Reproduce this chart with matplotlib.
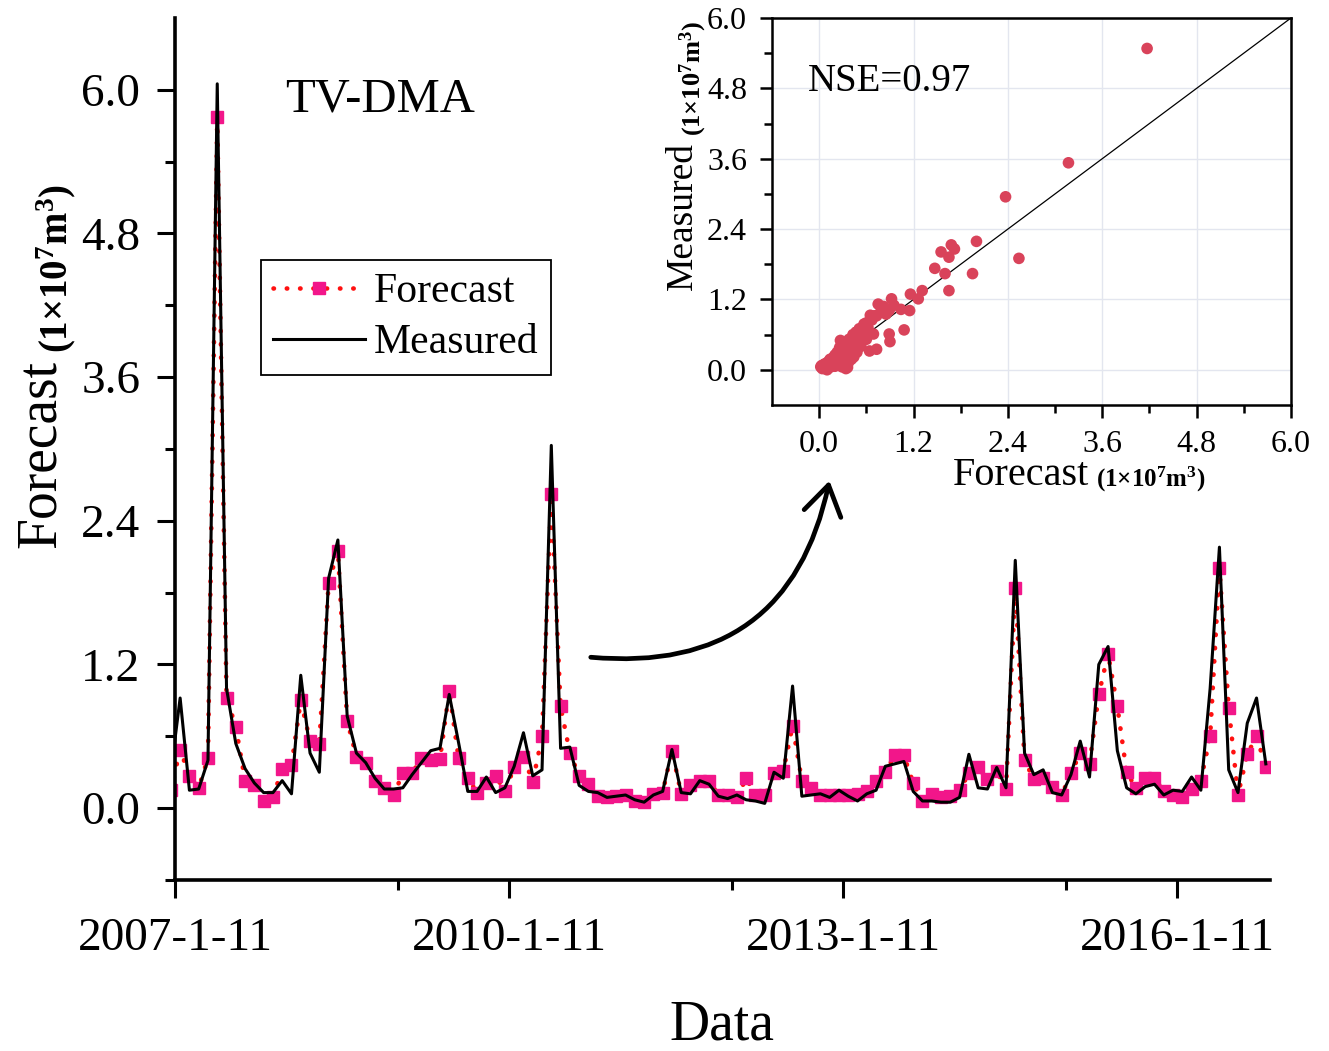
import numpy as np
import matplotlib
matplotlib.use('Agg')
import matplotlib.pyplot as plt
from matplotlib.ticker import FixedLocator
from matplotlib.patches import FancyArrowPatch

plt.rcParams.update({
    'font.family': 'serif',
    'font.serif': ['Liberation Serif', 'DejaVu Serif'],
    'mathtext.fontset': 'custom',
    'mathtext.rm': 'Liberation Serif',
    'mathtext.it': 'Liberation Serif:italic',
    'mathtext.bf': 'Liberation Serif:bold',
    'axes.unicode_minus': False,
})

# monthly series, first month sits just left of the axis
month = np.arange(-1, 118)
measured = [
    0.30, 0.92, 0.15, 0.16, 0.40, 6.05, 1.00, 0.54, 0.33, 0.21,
    0.13, 0.13, 0.23, 0.12, 1.11, 0.46, 0.30, 1.92, 2.24, 0.77,
    0.46, 0.38, 0.25, 0.16, 0.16, 0.17, 0.28, 0.38, 0.48, 0.50,
    0.95, 0.55, 0.14, 0.14, 0.26, 0.13, 0.17, 0.35, 0.63, 0.27,
    0.32, 3.03, 0.50, 0.51, 0.19, 0.14, 0.13, 0.09, 0.10, 0.11,
    0.07, 0.05, 0.11, 0.14, 0.49, 0.13, 0.12, 0.23, 0.20, 0.10,
    0.08, 0.11, 0.07, 0.06, 0.04, 0.30, 0.25, 1.02, 0.10, 0.11,
    0.12, 0.09, 0.15, 0.10, 0.06, 0.12, 0.15, 0.35, 0.37, 0.39,
    0.14, 0.06, 0.06, 0.05, 0.05, 0.09, 0.45, 0.17, 0.16, 0.34,
    0.17, 2.07, 0.46, 0.28, 0.32, 0.13, 0.11, 0.28, 0.56, 0.26,
    1.20, 1.35, 0.48, 0.17, 0.12, 0.18, 0.20, 0.11, 0.15, 0.14,
    0.26, 0.15, 1.00, 2.18, 0.32, 0.13, 0.71, 0.92, 0.37,
]
forecast = [
    0.15, 0.49, 0.27, 0.17, 0.42, 5.77, 0.92, 0.68, 0.23, 0.19,
    0.06, 0.09, 0.33, 0.36, 0.90, 0.56, 0.54, 1.88, 2.15, 0.73,
    0.43, 0.38, 0.23, 0.17, 0.11, 0.29, 0.29, 0.42, 0.40, 0.41,
    0.98, 0.42, 0.25, 0.13, 0.21, 0.27, 0.14, 0.34, 0.43, 0.22,
    0.60, 2.62, 0.85, 0.46, 0.27, 0.20, 0.10, 0.09, 0.10, 0.11,
    0.06, 0.05, 0.12, 0.13, 0.48, 0.12, 0.19, 0.23, 0.23, 0.11,
    0.11, 0.09, 0.25, 0.11, 0.11, 0.29, 0.31, 0.69, 0.23, 0.17,
    0.11, 0.11, 0.11, 0.11, 0.12, 0.14, 0.23, 0.30, 0.44, 0.44,
    0.21, 0.06, 0.12, 0.09, 0.10, 0.15, 0.29, 0.34, 0.24, 0.31,
    0.16, 1.84, 0.40, 0.24, 0.25, 0.18, 0.11, 0.29, 0.46, 0.37,
    0.95, 1.29, 0.85, 0.30, 0.17, 0.25, 0.25, 0.14, 0.11, 0.09,
    0.16, 0.23, 0.60, 2.01, 0.84, 0.11, 0.45, 0.60, 0.34,
]
date_ticks = [0, 36, 72, 108]
date_labels = ['2007-1-11', '2010-1-11', '2013-1-11', '2016-1-11']

# validation scatter (forecast, measured)
val_forecast = [
    4.17, 3.17, 2.37, 2.54, 2.00, 1.68, 1.72, 1.55, 1.65, 1.47,
    1.60, 1.95, 1.65, 1.31, 1.16, 1.26, 1.15, 1.08, 1.04, 0.92,
    0.95, 0.89, 0.85, 0.82, 0.80, 0.78, 0.75, 0.73, 0.70, 0.67,
    0.65, 0.62, 0.60, 0.89, 0.90, 0.73, 0.64, 0.69, 0.60, 0.57,
    0.56, 0.55, 0.53, 0.52, 0.51, 0.50, 0.48, 0.47, 0.46, 0.45,
    0.44, 0.43, 0.42, 0.41, 0.40, 0.38, 0.38, 0.37, 0.36, 0.36,
    0.35, 0.34, 0.33, 0.32, 0.32, 0.30, 0.30, 0.29, 0.28, 0.27,
    0.27, 0.26, 0.25, 0.24, 0.23, 0.22, 0.22, 0.20, 0.20, 0.19,
    0.18, 0.18, 0.17, 0.16, 0.15, 0.14, 0.13, 0.12, 0.12, 0.10,
    0.10, 0.09, 0.08, 0.07, 0.06, 0.05, 0.04, 0.03, 0.02, 0.47,
]
val_measured = [
    5.48, 3.53, 2.95, 1.90, 2.19, 2.13, 2.06, 2.01, 1.92, 1.73,
    1.64, 1.64, 1.35, 1.35, 1.29, 1.21, 1.01, 0.68, 1.03, 1.21,
    1.10, 1.01, 0.95, 1.08, 1.04, 0.98, 1.12, 0.92, 0.92, 0.85,
    0.93, 0.72, 0.80, 0.61, 0.48, 0.35, 0.32, 0.61, 0.52, 0.78,
    0.67, 0.62, 0.40, 0.55, 0.70, 0.45, 0.30, 0.64, 0.50, 0.35,
    0.22, 0.60, 0.42, 0.18, 0.28, 0.52, 0.35, 0.12, 0.45, 0.04,
    0.25, 0.02, 0.32, 0.15, 0.13, 0.40, 0.22, 0.05, 0.28, 0.12,
    0.50, 0.38, 0.20, 0.08, 0.30, 0.15, 0.26, 0.25, 0.06, 0.22,
    0.20, 0.10, 0.14, 0.12, 0.05, 0.18, 0.16, 0.08, 0.10, 0.12,
    0.00, 0.06, 0.04, 0.10, 0.03, 0.08, 0.02, 0.07, 0.05, 0.64,
]
nse = 0.97
val_ticks = [0.0, 1.2, 2.4, 3.6, 4.8, 6.0]
units = r'$\mathbf{(1{\times}10^{7}m^{3})}$'

pink = '#f2168a'
dot_red = '#ff1010'

fig = plt.figure(figsize=(13.29, 10.51), dpi=100)

# ---- main time series ----
ax = fig.add_axes([0.1317, 0.1627, 0.8239, 0.8202])
x = month + 0.55
ax.plot(x, forecast, color=dot_red, lw=3.3, ls=(0, (0.1, 2.8)),
        dash_capstyle='round', marker='s', ms=9, mfc=pink, mec=pink,
        label='Forecast', zorder=2)
ax.plot(x, measured, color='black', lw=2.2, label='Measured', zorder=3)

ax.set_xlim(0, 118)
ax.set_ylim(-0.6, 6.6)
ax.xaxis.set_major_locator(FixedLocator(date_ticks))
ax.xaxis.set_minor_locator(FixedLocator([24, 60, 96]))
ax.set_xticklabels(date_labels)
ax.yaxis.set_major_locator(FixedLocator([0.0, 1.2, 2.4, 3.6, 4.8, 6.0]))
ax.yaxis.set_minor_locator(FixedLocator([-0.6, 0.6, 1.8, 3.0, 4.2, 5.4]))
ax.yaxis.set_major_formatter(plt.FormatStrFormatter('%.1f'))
for side in ('top', 'right'):
    ax.spines[side].set_visible(False)
for side in ('left', 'bottom'):
    ax.spines[side].set_linewidth(2.6)
ax.tick_params(which='major', direction='out', length=13, width=2.2,
               labelsize=34, pad=12)
ax.tick_params(which='minor', direction='out', length=7, width=2.2)
ax.tick_params(axis='x', which='major', pad=14)

leg = ax.legend(loc='upper left', bbox_to_anchor=(0.0785, 0.719),
                borderaxespad=0, fontsize=30, handlelength=2.2,
                handletextpad=0.2, labelspacing=0.3, borderpad=0.3,
                fancybox=False, framealpha=1, edgecolor='black')
leg.get_frame().set_linewidth(1.3)

fig.text(285 / 1329, 1 - 112 / 1051, 'TV-DMA', fontsize=35)
fig.text(722 / 1329, 1 - 1040 / 1051, 'Data', fontsize=40,
         ha='center', va='baseline')

ylab = fig.text(55 / 1329, 1 - 548 / 1051, 'Forecast', fontsize=40,
                rotation=90, rotation_mode='anchor', ha='left',
                va='baseline')
fig.canvas.draw()
ax.annotate(units, xy=(1, 1), xycoords=ylab, xytext=(0, 5),
            textcoords='offset points', fontsize=28, rotation=90,
            rotation_mode='anchor', ha='left', va='baseline',
            annotation_clip=False)

# curved pointer towards the inset
arrow = FancyArrowPatch((588 / 1329, 1 - 657 / 1051),
                        (830 / 1329, 1 - 478 / 1051),
                        transform=fig.transFigure,
                        connectionstyle='arc3,rad=0.45',
                        arrowstyle='->,head_length=0.7,head_width=0.45',
                        mutation_scale=30, lw=3.4, color='black')
fig.patches.append(arrow)

# ---- inset: forecast vs measured ----
ins = fig.add_axes([0.5809, 0.6147, 0.3905, 0.3682])
ins.grid(True, color='#e3e6ef', lw=1.0, zorder=0)
ins.plot([0, 6], [0, 6], color='black', lw=0.9, zorder=2)
ins.scatter(val_forecast, val_measured, s=70, color='#d9435a',
            edgecolor='none', zorder=3)
ins.set_xlim(-0.6, 6.0)
ins.set_ylim(-0.6, 6.0)
ins.xaxis.set_major_locator(FixedLocator(val_ticks))
ins.yaxis.set_major_locator(FixedLocator(val_ticks))
ins.xaxis.set_minor_locator(FixedLocator([0.6, 1.8, 3.0, 4.2, 5.4]))
ins.yaxis.set_minor_locator(FixedLocator([0.6, 1.8, 3.0, 4.2, 5.4]))
ins.xaxis.set_major_formatter(plt.FormatStrFormatter('%.1f'))
ins.yaxis.set_major_formatter(plt.FormatStrFormatter('%.1f'))
for side in ins.spines.values():
    side.set_linewidth(1.8)
ins.tick_params(which='major', direction='out', length=9, width=1.8,
                labelsize=23, pad=9)
ins.tick_params(which='minor', direction='out', length=6, width=1.8)
ins.set_axisbelow(True)

ins.text(0.07, 0.812, 'NSE=%.2f' % nse, transform=ins.transAxes,
         fontsize=28)

xl = fig.text(953 / 1329, 1 - 485 / 1051, 'Forecast', fontsize=29,
              ha='left', va='baseline')
fig.canvas.draw()
ins.annotate(units, xy=(1, 0), xycoords=xl, xytext=(5, 0),
             textcoords='offset points', fontsize=18, ha='left',
             va='bottom', annotation_clip=False)

yl = fig.text(692 / 1329, 1 - 290 / 1051, 'Measured', fontsize=27,
              rotation=90, rotation_mode='anchor', ha='left',
              va='baseline')
fig.canvas.draw()
ins.annotate(units, xy=(1, 1), xycoords=yl, xytext=(0, 4),
             textcoords='offset points', fontsize=19, rotation=90,
             rotation_mode='anchor', ha='left', va='baseline',
             annotation_clip=False)

fig.savefig('out.png', dpi=100)
